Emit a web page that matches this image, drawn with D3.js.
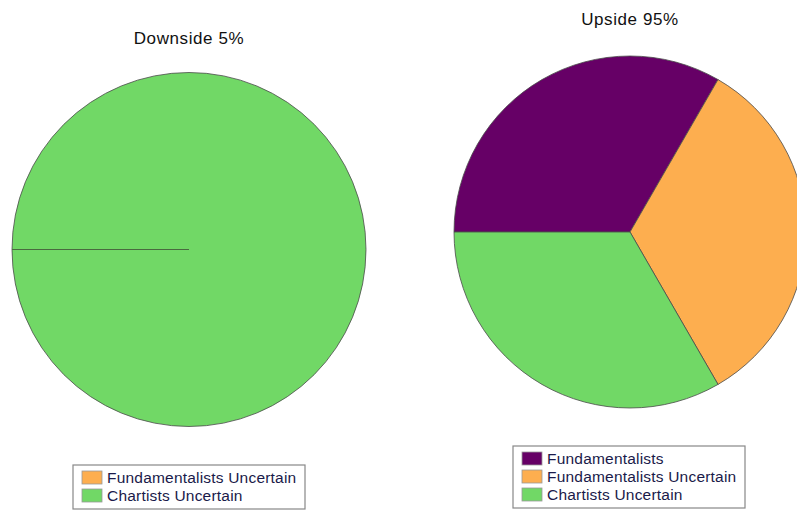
<!DOCTYPE html>
<html><head><meta charset="utf-8">
<script src="https://cdn.jsdelivr.net/npm/d3@7"></script>
<style>body{margin:0;background:#fff}svg{display:block}</style>
</head><body>
<script>
const leftTitle = "Downside 5%";
const rightTitle = "Upside 95%";
const leftCategories = ["Fundamentalists Uncertain", "Chartists Uncertain"];
const leftValues = [0, 1];
const rightCategories = ["Fundamentalists", "Fundamentalists Uncertain", "Chartists Uncertain"];
const rightValues = [1, 1, 1];
const colorMap = {"Fundamentalists":"#660066","Fundamentalists Uncertain":"#fdae4f","Chartists Uncertain":"#71d866"};

const W = 797, H = 513;
const svg = d3.select("body").append("svg").attr("width", W).attr("height", H);
const font = "Liberation Sans, Arial, sans-serif";

function drawPie(cats, vals, cx, cy, r, title, ty, legend) {
  const g = svg.append("g").attr("transform", `translate(${cx},${cy})`);
  const pie = d3.pie().sort(null).startAngle(-Math.PI/2).endAngle(1.5*Math.PI).value(d => d.v);
  const data = pie(cats.map((c,i) => ({c, v: vals[i]})));
  const arc = d3.arc().innerRadius(0).outerRadius(r);
  g.selectAll("path").data(data).join("path")
    .attr("d", arc).attr("fill", d => colorMap[d.data.c])
    .attr("stroke", "#4a4a4a").attr("stroke-width", 0.8);
  data.filter(d => d.data.v === 0).forEach(d => {
    g.append("line").attr("x1", 0).attr("y1", 0)
      .attr("x2", r*Math.sin(d.startAngle)).attr("y2", -r*Math.cos(d.startAngle))
      .attr("stroke", "#4a6a40").attr("stroke-width", 1);
  });
  svg.append("text").attr("x", cx).attr("y", ty).attr("text-anchor", "middle")
    .attr("font-family", font).attr("font-size", 17).attr("letter-spacing", 0.6)
    .attr("fill", "#111").text(title);
  const lg = svg.append("g").attr("transform", `translate(${legend.x},${legend.y})`);
  lg.append("rect").attr("x", 0).attr("y", 0).attr("width", legend.w).attr("height", cats.length*18 + 8)
    .attr("fill", "#fff").attr("stroke", "#888").attr("stroke-width", 1.2);
  cats.forEach((c, i) => {
    lg.append("rect").attr("x", 9).attr("y", 6 + i*18).attr("width", 20).attr("height", 13)
      .attr("fill", colorMap[c]).attr("stroke", "#999").attr("stroke-width", 0.8);
    lg.append("text").attr("x", 34).attr("y", 18 + i*18).attr("font-family", font)
      .attr("font-size", 15.5).attr("letter-spacing", 0.2).attr("fill", "#1a1a4a").text(c);
  });
}

drawPie(leftCategories, leftValues, 189, 249.5, 177, leftTitle, 44, {x: 73, y: 465, w: 232});
drawPie(rightCategories, rightValues, 630, 232, 176, rightTitle, 25, {x: 513, y: 446, w: 232});
</script>
</body></html>
